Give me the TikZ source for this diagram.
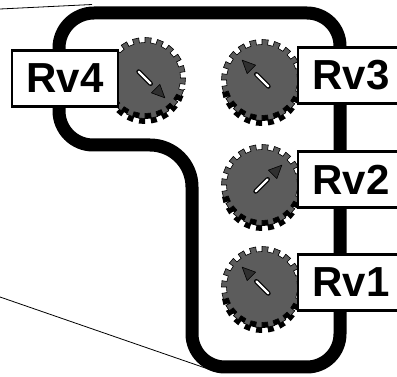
\documentclass[tikz,border=0pt]{standalone}
\usepackage{fontspec}
\setmainfont{Liberation Sans}
\definecolor{knobgray}{RGB}{92,92,92}
\definecolor{tipgray}{RGB}{48,48,48}
% toothed outline of a knob, centred on the current origin
\newcommand\knobteeth{(0:35.5) \foreach \k in {0,...,19}{ -- ({\k*18}:35.5) -- ({\k*18}:40.5) -- ({\k*18+9}:40.5) -- ({\k*18+9}:35.5) } -- cycle}
\begin{document}
\begin{tikzpicture}[x=1pt,y=-1pt,
  board/.style={line width=13pt, black, line join=round},
  zoomline/.style={line width=0.8pt, black},
  labelbox/.style={draw=black, line width=2.2pt, fill=white,
    minimum width=106pt, minimum height=56pt, inner sep=0pt,
    font=\bfseries\fontsize{42}{42}\selectfont},
  pics/knob/.style={code={
    % dark rim seen under the lower edge of the knob
    \begin{scope}
      \clip (-50,12) rectangle (50,60);
      \begin{scope}[shift={(0,5.5)}]
        \fill[black] \knobteeth;
      \end{scope}
    \end{scope}
    \filldraw[fill=knobgray, draw=black, line width=0.6pt] \knobteeth;
    \begin{scope}[rotate=#1]
      \draw[black, line width=4.6pt, line cap=round] (-9,0) -- (8,0);
      \draw[white, line width=2.2pt, line cap=round] (-9,0) -- (8,0);
      \filldraw[fill=tipgray, draw=black, line width=0.6pt, line join=round]
        (28,0) -- (15,6) -- (15,-6) -- cycle;
    \end{scope}
  }}
]
\useasboundingbox (0,0) rectangle (397,377);
\clip (0,0) rectangle (397,377);

% board outline
\draw[board, rounded corners=33pt] (200,13) -- (340,13) -- (340,367) -- (192,367)
  [rounded corners=42pt] -- (192,145) [rounded corners=34pt] -- (59,145)
  [rounded corners=35pt] -- (59,13) -- cycle;

% magnification lines
\coordinate (za) at (0,9);
\coordinate (zb) at (92,4.5);
\coordinate (zc) at (0,297);
\coordinate (zd) at (214,371);
\draw[zoomline] (za) -- (zb);
\draw[zoomline] (zc) -- (zd);

% trimmer knobs
\pic (k4) at (145,78) {knob=-45};
\pic (k3) at (262,80) {knob=135};
\pic (k2) at (262,185) {knob=45};
\pic (k1) at (262,287) {knob=135};

% labels
\node[labelbox] (rv4) at (65,78.5) {Rv4};
\node[labelbox] (rv3) at (351,75.5) {Rv3};
\node[labelbox] (rv2) at (351,179.5) {Rv2};
\node[labelbox] (rv1) at (351,282.5) {Rv1};
\end{tikzpicture}
\end{document}
